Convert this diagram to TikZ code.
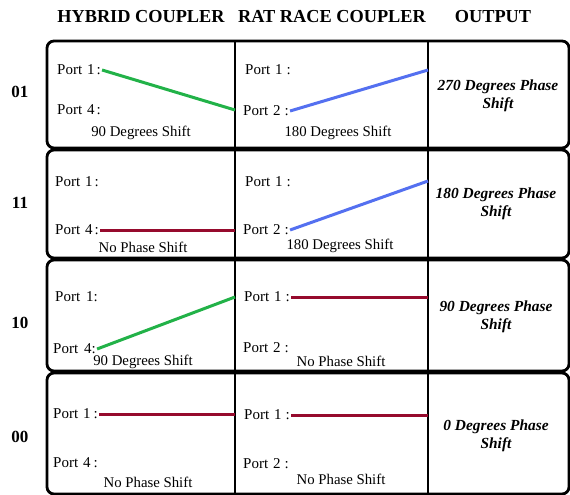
\documentclass[tikz,border=0pt]{standalone}
\usepackage{fontspec}
\setmainfont{Liberation Serif}
\definecolor{lgreen}{RGB}{34,178,72}
\definecolor{lblue}{RGB}{84,112,240}
\definecolor{lmaroon}{RGB}{150,10,45}
\tikzset{
  hdr/.style={font=\fontsize{18.3}{20}\selectfont\bfseries, inner sep=0pt},
  rowlab/.style={font=\fontsize{17}{19}\selectfont\bfseries, inner sep=0pt},
  port/.style={font=\fontsize{15}{17}\selectfont, anchor=west, inner sep=0pt},
  shiftlab/.style={font=\fontsize{14.8}{17}\selectfont, inner sep=0pt},
  outp/.style={font=\fontsize{15.4}{18}\selectfont\bfseries\itshape, align=center, inner sep=0pt},
  rowbox/.style={draw, line width=2.8pt, rounded corners=7pt},
  divider/.style={draw, line width=2pt},
  sig/.style={line width=3pt},
}
\newcommand{\pt}[2]{Port\hspace{5pt}#1\hspace{#2}:}
\begin{document}
\begin{tikzpicture}[x=1pt,y=-1pt]
\useasboundingbox (0,0) rectangle (570,495);
% headers
\node[hdr] (h1) at (141,17) {HYBRID COUPLER};
\node[hdr] (h2) at (332,17) {RAT RACE COUPLER};
\node[hdr] (h3) at (493,17) {OUTPUT};
% row boxes
\draw[rowbox] (47,41) rectangle (569,148);
\draw[rowbox] (47,150) rectangle (569,258);
\draw[rowbox] (47,260) rectangle (569,371);
\draw[rowbox] (47,373) rectangle (569,494);
% dividers
\foreach \x in {235,428} {
  \draw[divider] (\x,41) -- (\x,148);
  \draw[divider] (\x,150) -- (\x,258);
  \draw[divider] (\x,260) -- (\x,371);
  \draw[divider] (\x,373) -- (\x,494);
}
% row labels
\node[rowlab] (r1) at (20,92) {01};
\node[rowlab] (r2) at (20,203) {11};
\node[rowlab] (r3) at (20,323) {10};
\node[rowlab] (r4) at (20,437) {00};

% ---------- Row 01 ----------
\node[port] (a1) at (57,70) {\pt{1}{2pt}};
\node[port] (a4) at (57,110) {\pt{4}{2pt}};
\node[shiftlab] (as) at (141,133) {90 Degrees Shift};
\node[port] (b1) at (245,70) {\pt{1}{4pt}};
\node[port] (b2) at (243,111) {\pt{2}{4pt}};
\node[shiftlab] (bs) at (338,133) {180 Degrees Shift};
\node[outp] (o1) at (498,96) {270 Degrees Phase\\Shift};
\coordinate (a1e) at (235,110);
\coordinate (b2e) at (428,70);
\draw[sig, lgreen] ([xshift=1pt]a1.east) -- (a1e);
\draw[sig, lblue] ([xshift=1pt]b2.east) -- (b2e);

% ---------- Row 11 ----------
\node[port] (c1) at (55,182) {\pt{1}{2pt}};
\node[port] (c4) at (55,230) {\pt{4}{2pt}};
\node[shiftlab] (cs) at (143,247) {No Phase Shift};
\node[port] (d1) at (245,182) {\pt{1}{4pt}};
\node[port] (d2) at (243,230) {\pt{2}{4pt}};
\node[shiftlab] (ds) at (340,246) {180 Degrees Shift};
\node[outp] (o2) at (496,204) {180 Degrees Phase\\Shift};
\coordinate (c4e) at (235,230);
\coordinate (d2e) at (428,181);
\draw[sig, lmaroon] ([xshift=1pt]c4.east) -- (c4e);
\draw[sig, lblue] ([xshift=1pt]d2.east) -- (d2e);

% ---------- Row 10 ----------
\node[port] (e1) at (55,297) {Port\hspace{6pt}1:};
\node[port] (e4) at (53,349) {Port\hspace{6pt}4:};
\node[shiftlab] (es) at (143,362) {90 Degrees Shift};
\node[port] (f1) at (244,297) {\pt{1}{4pt}};
\node[port] (f2) at (243,348) {\pt{2}{4pt}};
\node[shiftlab] (fs) at (341,361) {No Phase Shift};
\node[outp] (o3) at (496,317) {90 Degrees Phase\\Shift};
\coordinate (e4e) at (235,297);
\coordinate (f1e) at (428,297);
\draw[sig, lgreen] ([xshift=1pt]e4.east) -- (e4e);
\draw[sig, lmaroon] ([xshift=1pt]f1.east) -- (f1e);

% ---------- Row 00 ----------
\node[port] (g1) at (53,414) {\pt{1}{3pt}};
\node[port] (g4) at (53,463) {\pt{4}{3pt}};
\node[shiftlab] (gs) at (148,482) {No Phase Shift};
\node[port] (h1p) at (244,415) {\pt{1}{4pt}};
\node[port] (h2p) at (243,464) {\pt{2}{4pt}};
\node[shiftlab] (hs) at (341,479) {No Phase Shift};
\node[outp] (o4) at (496,436) {0 Degrees Phase\\Shift};
\coordinate (g1e) at (235,414);
\coordinate (h1e) at (428,415);
\draw[sig, lmaroon] ([xshift=1pt]g1.east) -- (g1e);
\draw[sig, lmaroon] ([xshift=1pt]h1p.east) -- (h1e);
\end{tikzpicture}
\end{document}
